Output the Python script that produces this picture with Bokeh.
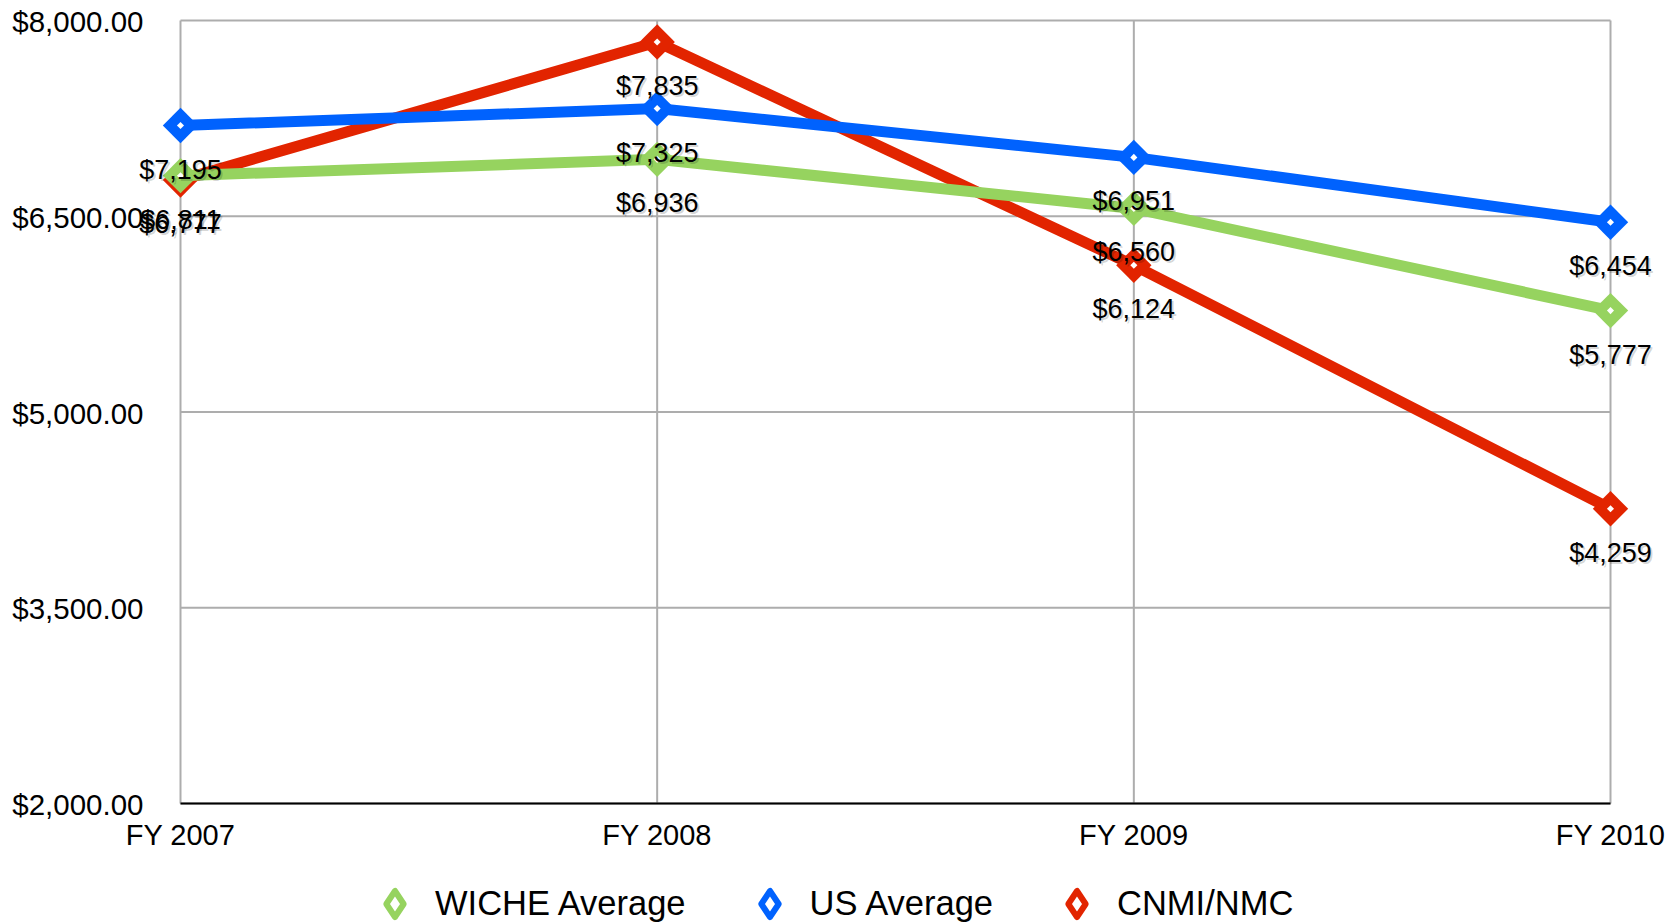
import math
from bokeh.plotting import figure
from bokeh.models import Range1d, Legend, LegendItem
from bokeh.core.properties import value
from bokeh.embed import file_html
from bokeh.resources import INLINE

categories = ["FY 2007", "FY 2008", "FY 2009", "FY 2010"]
wiche = [6811, 6936, 6560, 5777]
us_avg = [7195, 7325, 6951, 6454]
cnmi = [6777, 7835, 6124, 4259]
y_ticks = [2000, 3500, 5000, 6500, 8000]

series = [
    ("CNMI/NMC", cnmi, "#E22400"),
    ("US Average", us_avg, "#0062FE"),
    ("WICHE Average", wiche, "#96D35F"),
]
legend_order = ["WICHE Average", "US Average", "CNMI/NMC"]

FONT = "Liberation Sans"
xs = list(range(len(categories)))

# layout (pixels)
W, H = 1673, 922
PL, PR, PT, PB = 180, 1610, 20, 803
ymin, ymax = y_ticks[0], y_ticks[-1]
xppu = (PR - PL) / (len(categories) - 1)
yppu = (PB - PT) / (ymax - ymin)

p = figure(width=W, height=H, output_backend="svg", toolbar_location=None,
           x_range=Range1d(-PL / xppu, (len(categories) - 1) + (W - PR) / xppu),
           y_range=Range1d(ymin - (H - PB) / yppu, ymax + PT / yppu),
           min_border=0)
p.frame_width = W
p.frame_height = H
p.outline_line_color = None
p.axis.visible = False
p.grid.visible = False
p.background_fill_color = "white"
p.border_fill_color = "white"

GRID = "#ADADAD"
n = len(categories) - 1
# vertical grid lines at categories
p.segment(x0=xs, x1=xs, y0=[ymin] * len(xs), y1=[ymax] * len(xs), line_color=GRID, line_width=2)
# horizontal grid lines at ticks
p.segment(x0=[0] * len(y_ticks), x1=[n] * len(y_ticks), y0=y_ticks, y1=y_ticks,
          line_color=GRID, line_width=2)
# x axis line
p.segment(x0=[0], x1=[n], y0=[ymin], y1=[ymin], line_color="black", line_width=2)

# tick labels
p.text(x=[0] * len(y_ticks), y=y_ticks, text=["${:,.2f}".format(t) for t in y_ticks],
       text_align="right", text_baseline="middle", x_offset=-37, y_offset=1,
       text_font=value(FONT), text_font_size="29.5px", text_color="black")
p.text(x=xs, y=[ymin] * len(xs), text=categories, text_align="center", text_baseline="middle",
       y_offset=31, text_font=value(FONT), text_font_size="29px", text_color="black")

legend_renderers = {}
for name, vals, col in series:
    # outlined diamond used for the legend swatch (hidden under the markers in the plot)
    legend_renderers[name] = p.scatter(xs, vals, marker="diamond", size=8,
                                       fill_color="white", line_color=col, line_width=6,
                                       line_join="round")
    p.line(xs, vals, line_color=col, line_width=11, line_join="miter")
    p.scatter(xs, vals, marker="square", angle=math.pi / 4, size=25,
              fill_color=col, line_color=None)
    p.scatter(xs, vals, marker="square", angle=math.pi / 4, size=5,
              fill_color="white", line_color=None)

# data labels
for name, vals, col in series:
    txt = ["${:,}".format(v) for v in vals]
    p.text(x=xs, y=vals, text=txt, text_align="center", text_baseline="middle",
           x_offset=2, y_offset=46, text_font=value(FONT), text_font_size="27px",
           text_color="black", text_alpha=0.16)
    p.text(x=xs, y=vals, text=txt, text_align="center", text_baseline="middle",
           y_offset=44, text_font=value(FONT), text_font_size="27px", text_color="black")

legend = Legend(items=[LegendItem(label=nm, renderers=[legend_renderers[nm]], index=0)
                       for nm in legend_order],
                orientation="horizontal", location=(362, -14),
                glyph_width=65, glyph_height=65, label_standoff=8, spacing=51,
                padding=0, margin=0, border_line_color=None, background_fill_alpha=0,
                label_text_font=FONT, label_text_font_size="34.5px", label_text_color="black")
p.add_layout(legend)

open("out.html", "w").write(file_html(p, INLINE))
